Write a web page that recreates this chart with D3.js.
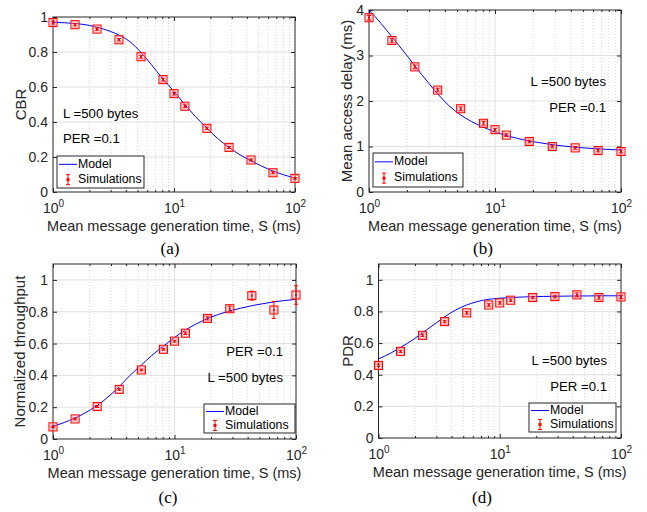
<!DOCTYPE html>
<html>
<head>
<meta charset="utf-8">
<script src="https://cdn.jsdelivr.net/npm/d3@7"></script>
<style>
  body { margin: 0; background: #fff; }
  text { font-family: "Liberation Sans", Arial, Helvetica, sans-serif; fill: #262626; }
  .cap { font-family: "Liberation Serif", "Times New Roman", serif; fill: #000; }
</style>
</head>
<body>
<svg id="fig" width="647" height="512"></svg>
<script>
// simulation points (mean message generation time, ms)
const simS = [1, 1.52, 2.31, 3.51, 5.34, 8.11, 10, 12.3, 18.7, 28.5, 43.3, 65.8, 100];
const cbrSim   = [0.968, 0.956, 0.931, 0.870, 0.773, 0.642, 0.562, 0.490, 0.364, 0.255, 0.183, 0.110, 0.078];
const cbrErr   = [0.008, 0.007, 0.007, 0.007, 0.008, 0.008, 0.008, 0.008, 0.007, 0.006, 0.006, 0.006, 0.005];
const delaySim = [3.83, 3.33, 2.75, 2.24, 1.83, 1.51, 1.37, 1.25, 1.11, 1.00, 0.97, 0.91, 0.89];
const delayErr = [0.05, 0.04, 0.04, 0.04, 0.04, 0.04, 0.03, 0.03, 0.03, 0.03, 0.03, 0.03, 0.03];
const thrSim   = [0.076, 0.126, 0.204, 0.312, 0.434, 0.564, 0.615, 0.665, 0.758, 0.819, 0.901, 0.811, 0.905];
const thrErr   = [0.005, 0.006, 0.006, 0.006, 0.006, 0.006, 0.006, 0.008, 0.010, 0.016, 0.028, 0.053, 0.058];
const pdrSim   = [0.459, 0.548, 0.649, 0.736, 0.791, 0.841, 0.854, 0.871, 0.888, 0.894, 0.905, 0.888, 0.892];
const pdrErr   = [0.008, 0.007, 0.008, 0.008, 0.008, 0.008, 0.008, 0.008, 0.008, 0.009, 0.012, 0.010, 0.010];

// model curves
const modelS     = [1, 1.25, 1.5, 2, 2.3, 3, 3.5, 4.3, 5.3, 6.5, 8, 10, 12.3, 15, 18.7, 23, 28.5, 35, 43.3, 53, 65.8, 80, 100];
const cbrModel   = [0.970, 0.967, 0.963, 0.952, 0.942, 0.917, 0.897, 0.860, 0.800, 0.728, 0.650, 0.575, 0.500, 0.432, 0.365, 0.305, 0.255, 0.213, 0.178, 0.148, 0.120, 0.099, 0.080];
const delayModel = [4.00, 3.70, 3.43, 3.00, 2.78, 2.38, 2.16, 1.90, 1.70, 1.55, 1.43, 1.32, 1.24, 1.18, 1.12, 1.08, 1.04, 1.01, 0.985, 0.965, 0.948, 0.935, 0.925];
const thrModel   = [0.080, 0.105, 0.130, 0.180, 0.210, 0.280, 0.328, 0.400, 0.462, 0.525, 0.580, 0.638, 0.685, 0.722, 0.757, 0.783, 0.805, 0.822, 0.838, 0.850, 0.862, 0.870, 0.878];
const pdrModel   = [0.500, 0.535, 0.570, 0.630, 0.665, 0.728, 0.765, 0.808, 0.840, 0.862, 0.876, 0.884, 0.888, 0.891, 0.893, 0.895, 0.896, 0.897, 0.898, 0.898, 0.899, 0.899, 0.899];

const ticks01 = [0, 0.2, 0.4, 0.6, 0.8, 1];
const ticksDelay = [0, 1, 2, 3, 4];
const xTicks = [1, 10, 100];

const xTitle = "Mean message generation time, S (ms)";

const svg = d3.select("#fig");
const axisColor = "#262626";

function drawPanel(p) {
    var x = d3.scaleLog().domain([1, 100]).range([p.left, p.right]);
    var y = d3.scaleLinear().domain([0, p.ymax]).range([p.bottom, p.top]);
    var g = svg.append("g");

    // minor x grid (dotted)
    var minors = [];
    [1, 10].forEach(function(dec) {
        for (var k = 2; k <= 9; k++) minors.push(k * dec);
    });
    g.selectAll(".mg").data(minors).enter().append("line")
        .attr("x1", d => x(d)).attr("x2", d => x(d))
        .attr("y1", p.top).attr("y2", p.bottom)
        .attr("stroke", "#cfcfcf").attr("stroke-width", 0.8)
        .attr("stroke-dasharray", "1,2");
    // major grid
    g.append("line")
        .attr("x1", x(10)).attr("x2", x(10)).attr("y1", p.top).attr("y2", p.bottom)
        .attr("stroke", "#e0e0e0").attr("stroke-width", 1);
    g.selectAll(".yg").data(p.yticks.filter(d => d > 0 && d < p.ymax)).enter().append("line")
        .attr("x1", p.left).attr("x2", p.right)
        .attr("y1", d => y(d)).attr("y2", d => y(d))
        .attr("stroke", "#e0e0e0").attr("stroke-width", 1);

    // axes
    var yAxis = d3.axisLeft(y).tickValues(p.yticks).tickSize(-4).tickPadding(5)
        .tickFormat(d => d3.format("~g")(d));
    var ya = g.append("g").attr("transform", "translate(" + p.left + ",0)").call(yAxis);
    var yr = g.append("g").attr("transform", "translate(" + p.right + ",0)")
        .call(d3.axisRight(y).tickValues(p.yticks).tickSize(-4).tickFormat(""));
    var xAxis = d3.axisBottom(x).tickValues(xTicks).tickSize(-4).tickPadding(7).tickFormat("");
    var xa = g.append("g").attr("transform", "translate(0," + p.bottom + ")").call(xAxis);
    g.append("g").attr("transform", "translate(0," + p.top + ")")
        .call(d3.axisTop(x).tickValues(xTicks).tickSize(-4).tickFormat(""));
    g.append("g").attr("transform", "translate(0," + p.bottom + ")")
        .call(d3.axisBottom(x).tickValues(minors).tickSize(-2).tickFormat(""));
    g.append("g").attr("transform", "translate(0," + p.top + ")")
        .call(d3.axisTop(x).tickValues(minors).tickSize(-2).tickFormat(""));
    g.selectAll(".domain").remove();
    g.selectAll(".tick line").attr("stroke", axisColor);
    ya.selectAll("text").attr("font-size", 14).style("fill", axisColor)
        .attr("font-family", "Liberation Sans, Arial, sans-serif");

    // x tick labels with superscripts
    xa.selectAll(".tick").each(function(d) {
        var t = d3.select(this).append("text")
            .attr("y", 21).attr("text-anchor", "middle")
            .attr("font-size", 14).style("fill", axisColor)
            .attr("font-family", "Liberation Sans, Arial, sans-serif");
        t.append("tspan").text("10");
        t.append("tspan").attr("dy", -6).attr("font-size", 10).text(Math.round(Math.log10(d)));
    });

    // box
    g.append("rect")
        .attr("x", p.left).attr("y", p.top)
        .attr("width", p.right - p.left).attr("height", p.bottom - p.top)
        .attr("fill", "none").attr("stroke", axisColor).attr("stroke-width", 1);

    // model
    var line = d3.line().x(d => x(d[0])).y(d => y(d[1])).curve(d3.curveMonotoneX);
    g.append("path").datum(d3.zip(modelS, p.model))
        .attr("d", line).attr("fill", "none")
        .attr("stroke", "#0000ff").attr("stroke-width", 1);

    // simulations
    var pts = g.selectAll(".pt").data(d3.zip(simS, p.sim, p.err)).enter().append("g");
    pts.append("rect")
        .attr("x", d => x(d[0]) - 4).attr("y", d => y(d[1]) - 4)
        .attr("width", 8).attr("height", 8)
        .attr("fill", "none").attr("stroke", "#ff0000").attr("stroke-width", 1.1);
    pts.append("rect")
        .attr("x", d => x(d[0]) - 3).attr("y", d => y(d[1]) - 3)
        .attr("width", 6).attr("height", 6)
        .attr("fill", "none").attr("stroke", "#ff9090").attr("stroke-width", 0.8);
    pts.append("line")
        .attr("x1", d => x(d[0])).attr("x2", d => x(d[0]))
        .attr("y1", d => y(d[1] - d[2])).attr("y2", d => y(d[1] + d[2]))
        .attr("stroke", "#ff0000").attr("stroke-width", 1);
    [-1, 1].forEach(function(s) {
        pts.append("line")
            .attr("x1", d => x(d[0]) - 2).attr("x2", d => x(d[0]) + 2)
            .attr("y1", d => y(d[1] + s * d[2])).attr("y2", d => y(d[1] + s * d[2]))
            .attr("stroke", "#ff0000").attr("stroke-width", 1);
    });
    pts.append("rect")
        .attr("x", d => x(d[0]) - 1).attr("y", d => y(d[1]) - 1)
        .attr("width", 2).attr("height", 2).attr("fill", "#ff0000");

    // axis titles
    g.append("text")
        .attr("x", (p.left + p.right) / 2).attr("y", p.bottom + 39)
        .attr("text-anchor", "middle").attr("font-size", 14.5)
        .text(xTitle);
    g.append("text")
        .attr("transform", "translate(" + p.ylabX + "," + (p.top + p.bottom) / 2 + ") rotate(-90)")
        .attr("text-anchor", "middle").attr("font-size", 15)
        .text(p.ylabel);

    // annotations
    p.notes.forEach(function(n) {
        g.append("text")
            .attr("x", n[1]).attr("y", n[2])
            .attr("text-anchor", n[3]).attr("dominant-baseline", "middle")
            .attr("font-size", 13.2).style("fill", "#000")
            .text(n[0]);
    });

    // legend
    var L = p.legend;
    var lg = g.append("g");
    lg.append("rect")
        .attr("x", L.x).attr("y", L.y).attr("width", L.w).attr("height", L.h)
        .attr("fill", "#fff").attr("stroke", axisColor).attr("stroke-width", 1);
    var r1 = L.y + L.h * 0.26, r2 = L.y + L.h * 0.74;
    lg.append("line")
        .attr("x1", L.x + 2).attr("x2", L.x + 20).attr("y1", r1).attr("y2", r1)
        .attr("stroke", "#0000ff").attr("stroke-width", 1);
    var ex = L.x + 11;
    lg.append("line").attr("x1", ex).attr("x2", ex).attr("y1", r2 - 5).attr("y2", r2 + 5)
        .attr("stroke", "#ff0000").attr("stroke-width", 1);
    [-5, 5].forEach(function(o) {
        lg.append("line").attr("x1", ex - 2).attr("x2", ex + 2).attr("y1", r2 + o).attr("y2", r2 + o)
            .attr("stroke", "#ff0000").attr("stroke-width", 1);
    });
    lg.append("rect").attr("x", ex - 1.5).attr("y", r2 - 1.5).attr("width", 3).attr("height", 3)
        .attr("fill", "#ff0000");
    lg.append("text").attr("x", L.x + 21).attr("y", r1).attr("dominant-baseline", "middle")
        .attr("font-size", 12.3).style("fill", "#000").text("Model");
    lg.append("text").attr("x", L.x + 21).attr("y", r2).attr("dominant-baseline", "middle")
        .attr("font-size", 12.3).style("fill", "#000").text("Simulations");

    // caption
    svg.append("text").attr("class", "cap")
        .attr("x", p.capX).attr("y", p.capY).attr("text-anchor", "middle")
        .attr("font-size", 17).text(p.caption);
}

const panels = [
    { left: 53, right: 295, top: 17, bottom: 192, ymax: 1, yticks: ticks01,
      model: cbrModel, sim: cbrSim, err: cbrErr, ylabel: "CBR", ylabX: 26,
      notes: [["L =500 bytes", 63, 115, "start"], ["PER =0.1", 63, 140, "start"]],
      legend: { x: 57, y: 156, w: 87, h: 32 }, caption: "(a)", capX: 170, capY: 254 },
    { left: 369, right: 621, top: 10, bottom: 192, ymax: 4, yticks: ticksDelay,
      model: delayModel, sim: delaySim, err: delayErr, ylabel: "Mean access delay (ms)", ylabX: 352,
      notes: [["L =500 bytes", 606, 83, "end"], ["PER =0.1", 606, 109, "end"]],
      legend: { x: 373, y: 153, w: 90, h: 34 }, caption: "(b)", capX: 483, capY: 254 },
    { left: 53, right: 296, top: 264, bottom: 439, ymax: 1.1, yticks: ticks01,
      model: thrModel, sim: thrSim, err: thrErr, ylabel: "Normalized throughput", ylabX: 24.5,
      notes: [["PER =0.1", 283, 353, "end"], ["L =500 bytes", 283, 379, "end"]],
      legend: { x: 204, y: 404, w: 91, h: 29 }, caption: "(c)", capX: 168, capY: 503 },
    { left: 378.5, right: 621, top: 264, bottom: 438, ymax: 1.1, yticks: ticks01,
      model: pdrModel, sim: pdrSim, err: pdrErr, ylabel: "PDR", ylabX: 353,
      notes: [["L =500 bytes", 607, 362, "end"], ["PER =0.1", 607, 388, "end"]],
      legend: { x: 529, y: 403, w: 87, h: 29 }, caption: "(d)", capX: 482, capY: 503 }
];

panels.forEach(drawPanel);
</script>
</body>
</html>
